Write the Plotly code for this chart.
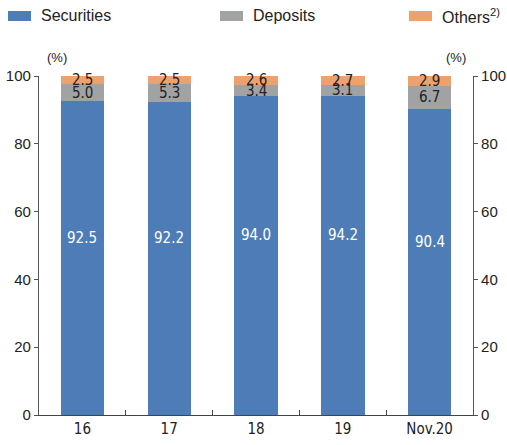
import plotly.graph_objects as go

categories = ["16", "17", "18", "19", "Nov.20"]
series_names = ["Securities", "Deposits", "Others<sup>2)</sup>"]
securities = [92.5, 92.2, 94.0, 94.2, 90.4]
deposits = [5.0, 5.3, 3.4, 3.1, 6.7]
others = [2.5, 2.5, 2.6, 2.7, 2.9]
y_ticks = [0, 20, 40, 60, 80, 100]

colors = ["#4E7CB7", "#A0A2A4", "#ECA26F"]
label_colors = ["white", "#222222", "#222222"]
series = [securities, deposits, others]

W, H = 507, 445
L, R, T, B = 39, 34, 76, 30
PW, PH = W - L - R, H - T - B


def px(xp):
    return (xp - L) / PW


def py(yp):
    return (H - B - yp) / PH


fig = go.Figure()
for name, vals, col in zip(series_names, series, colors):
    fig.add_trace(go.Bar(x=categories, y=vals, name=name, marker=dict(color=col, line=dict(width=0)),
                         width=0.5, showlegend=False, hoverinfo="skip"))

fig.add_trace(go.Scatter(x=categories, y=securities, yaxis="y2", mode="none", showlegend=False, hoverinfo="skip"))

font_n = "Liberation Sans Narrow, DejaVu Sans Condensed, Roboto Condensed, Liberation Sans, Arial"
annotations = []
for i, c in enumerate(categories):
    base = 0
    for k, vals in enumerate(series):
        v = vals[i]
        ypos = v * 0.565 if k == 0 else base + v / 2
        annotations.append(dict(x=i, y=ypos, xref="x", yref="y", text=f"{v:.1f}", showarrow=False,
                                font=dict(family=font_n, size=15, color=label_colors[k])))
        base += v

leg_x = [8, 220, 409]
shapes = []
for k, name in enumerate(series_names):
    x0 = leg_x[k]
    shapes.append(dict(type="rect", xref="paper", yref="paper", x0=px(x0), x1=px(x0 + 23),
                       y0=py(21), y1=py(11), fillcolor=colors[k], line=dict(width=0)))
    annotations.append(dict(x=px(x0 + 31), y=py(16), xref="paper", yref="paper", text=name,
                            showarrow=False, xanchor="left", yanchor="middle",
                            font=dict(family="Liberation Sans, Arial", size=16, color="#222222")))

for xc in (45, 468):
    annotations.append(dict(x=px(xc), y=py(48), xref="paper", yref="paper", text="(%)", showarrow=False,
                            font=dict(family="Liberation Sans, Arial", size=13, color="#222222")))

axis_font = dict(family="Liberation Sans, Arial", size=15, color="#222222")
fig.update_layout(
    width=W, height=H,
    margin=dict(l=L, r=R, t=T, b=B, autoexpand=False),
    paper_bgcolor="white", plot_bgcolor="white",
    barmode="stack",
    showlegend=False,
    shapes=shapes,
    annotations=annotations,
    xaxis=dict(type="category", tickson="boundaries", ticks="inside", ticklen=5, tickcolor="#444",
               showline=True, linecolor="#444", linewidth=1.2, showgrid=False, automargin=False,
               tickfont=dict(family=font_n, size=15, color="#222222")),
    yaxis=dict(range=[0, 100], tickvals=y_ticks, ticks="outside", ticklen=4, tickcolor="#555",
               showline=True, linecolor="#555", linewidth=1.2, showgrid=False, zeroline=False,
               automargin=False, tickfont=axis_font),
    yaxis2=dict(range=[0, 100], tickvals=y_ticks, ticks="outside", ticklen=4, tickcolor="#555",
                showline=True, linecolor="#555", linewidth=1.2, showgrid=False, zeroline=False,
                automargin=False, overlaying="y", side="right", tickfont=axis_font),
)

fig.write_html("out.html", config={"displayModeBar": False},
               post_script="document.body.style.margin='0';document.body.style.overflow='hidden';")
